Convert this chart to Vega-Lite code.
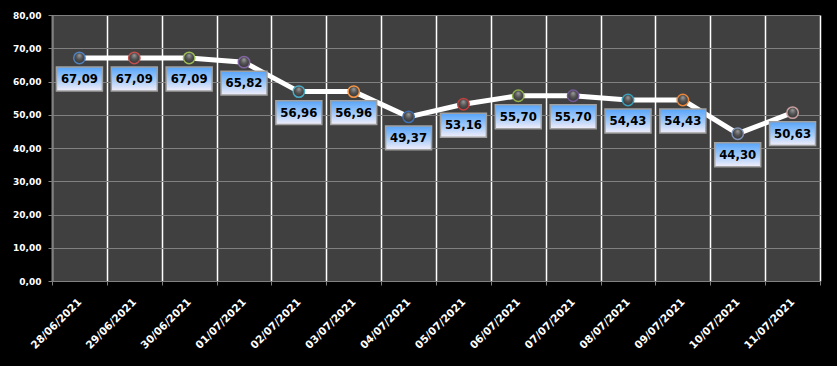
{
  "$schema": "https://vega.github.io/schema/vega-lite/v6.json",
  "width": 768,
  "height": 266,
  "autosize": {"type": "none"},
  "padding": {"left": 52, "top": 15, "right": 17, "bottom": 85},
  "background": "#000000",
  "config": {
    "locale": {"number": {"decimal": ",", "thousands": ".", "grouping": [3], "currency": ["", ""]}},
    "view": {"fill": "#404040", "stroke": null},
    "font": "DejaVu Sans"
  },
  "data": {
    "values": [
      {"date": "28/06/2021", "value": 67.09},
      {"date": "29/06/2021", "value": 67.09},
      {"date": "30/06/2021", "value": 67.09},
      {"date": "01/07/2021", "value": 65.82},
      {"date": "02/07/2021", "value": 56.96},
      {"date": "03/07/2021", "value": 56.96},
      {"date": "04/07/2021", "value": 49.37},
      {"date": "05/07/2021", "value": 53.16},
      {"date": "06/07/2021", "value": 55.70},
      {"date": "07/07/2021", "value": 55.70},
      {"date": "08/07/2021", "value": 54.43},
      {"date": "09/07/2021", "value": 54.43},
      {"date": "10/07/2021", "value": 44.30},
      {"date": "11/07/2021", "value": 50.63}
    ]
  },
  "encoding": {
    "x": {
      "field": "date",
      "type": "nominal",
      "sort": null,
      "scale": {"type": "band", "paddingInner": 0, "paddingOuter": 0},
      "axis": {
        "title": null,
        "tickBand": "extent",
        "grid": true,
        "gridColor": "#ffffff",
        "gridOpacity": 1,
        "gridWidth": 1.5,
        "domainColor": "#808080",
        "tickColor": "#808080",
        "tickSize": 4,
        "labelAngle": -45,
        "labelAlign": "right",
        "labelBaseline": "middle",
        "labelPadding": 15,
        "labelColor": "#ffffff",
        "labelFont": "DejaVu Sans",
        "labelFontSize": 10.5,
        "labelFontWeight": "bold"
      }
    },
    "y": {
      "field": "value",
      "type": "quantitative",
      "scale": {"domain": [0, 80], "nice": false},
      "axis": {
        "title": null,
        "values": [0, 10, 20, 30, 40, 50, 60, 70, 80],
        "format": ".2f",
        "grid": true,
        "gridColor": "#808080",
        "gridWidth": 1,
        "domainColor": "#808080",
        "tickColor": "#808080",
        "tickSize": 4,
        "labelPadding": 7,
        "labelColor": "#ffffff",
        "labelFont": "DejaVu Sans",
        "labelFontSize": 9,
        "labelFontWeight": "bold"
      }
    }
  },
  "layer": [
    {
      "mark": {"type": "line", "color": "#ffffff", "strokeWidth": 5}
    },
    {
      "mark": {
        "type": "point",
        "shape": "circle",
        "size": 130,
        "filled": false,
        "strokeWidth": 1.5,
        "opacity": 1,
        "fill": {
          "gradient": "radial",
          "x1": 0.5, "y1": 0.25, "r1": 0,
          "x2": 0.5, "y2": 0.5, "r2": 0.6,
          "stops": [
            {"offset": 0, "color": "#a0a0a0"},
            {"offset": 0.45, "color": "#555555"},
            {"offset": 1, "color": "#2a2a2a"}
          ]
        }
      },
      "encoding": {
        "stroke": {
          "field": "date",
          "type": "nominal",
          "sort": null,
          "legend": null,
          "scale": {
            "range": ["#4F81BD", "#C0504D", "#9BBB59", "#8064A2", "#4BACC6", "#F79646", "#3F6FAF", "#C0403D", "#8FB24B", "#745896", "#3AA0BA", "#E8853A", "#7F95B8", "#C9A09F"]
          }
        }
      }
    },
    {
      "mark": {
        "type": "point",
        "shape": "M-1,-0.52H1V0.52H-1Z",
        "size": 2116,
        "filled": true,
        "opacity": 1,
        "yOffset": 21,
        "stroke": "#a0a0a0",
        "strokeWidth": 1.5,
        "fill": {
          "gradient": "linear",
          "x1": 0, "y1": 0, "x2": 0, "y2": 1,
          "stops": [
            {"offset": 0, "color": "#55a4fa"},
            {"offset": 0.55, "color": "#a6cbf8"},
            {"offset": 1, "color": "#f2eefa"}
          ]
        }
      }
    },
    {
      "mark": {
        "type": "text",
        "yOffset": 21,
        "font": "DejaVu Sans Condensed",
        "fontSize": 13,
        "fontWeight": "bold",
        "color": "#000000",
        "baseline": "middle",
        "align": "center"
      },
      "encoding": {
        "text": {"field": "value", "type": "quantitative", "format": ".2f"}
      }
    }
  ]
}
